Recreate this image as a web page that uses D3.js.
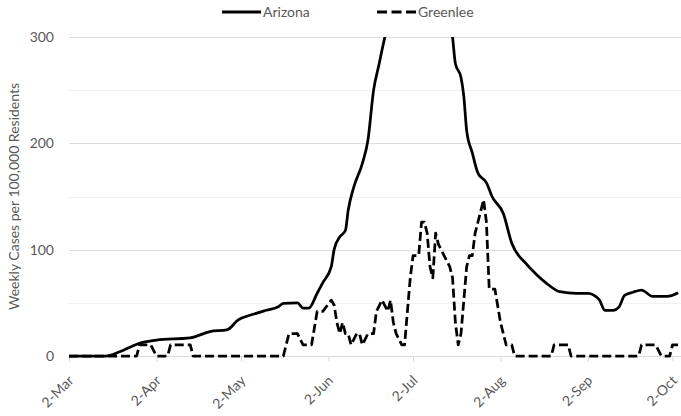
<!DOCTYPE html>
<html>
<head>
<meta charset="utf-8">
<script src="https://cdn.jsdelivr.net/npm/d3@7"></script>
<style>
	body { margin: 0; background: #fff; }
	svg { display: block; font-family: Lato, "Open Sans", sans-serif; }
	.grid line { shape-rendering: crispEdges; }
</style>
</head>
<body>
<div id="chart"></div>
<script>
// ---------------------------------------------------------------
// data (2020)
// ---------------------------------------------------------------

const azDates = [
	"03-02", "03-15", "03-20", "03-27", "04-02", "04-14", "04-21", "04-27",
	"05-01", "05-06", "05-11", "05-15", "05-17", "05-22", "05-24", "05-26",
	"05-29", "05-31", "06-03", "06-04", "06-06", "06-08", "06-09", "06-11",
	"06-14", "06-16", "06-18", "06-20", "06-21", "06-22", "06-26", "06-30",
	"07-04", "07-08", "07-12", "07-16", "07-17", "07-19", "07-20", "07-21",
	"07-23", "07-25", "07-28", "07-30", "08-03", "08-06", "08-11", "08-15",
	"08-18", "08-23", "08-29", "09-02", "09-06", "09-08", "09-11", "09-13",
	"09-15", "09-18", "09-21", "09-25", "09-30", "10-04"
];
const azValues = [
	0, 0, 4, 12, 15, 17, 23, 24.5,
	34, 39, 43, 46, 49.5, 50, 45, 45,
	59, 69, 84, 100, 112, 118, 137, 159,
	181, 203, 250, 275, 288, 300, 345, 385,
	410, 405, 370, 300, 275, 262, 244, 212,
	191, 172, 163, 150, 134, 106, 87, 76,
	69, 60.5, 59, 59, 53, 43, 43, 46,
	57, 60, 62, 56, 56, 59.5
];

const glDates = [
	"03-02", "03-26", "03-27", "03-31", "04-02", "04-06", "04-07", "04-14",
	"04-15", "05-17", "05-19", "05-22", "05-24", "05-27", "05-29", "05-31",
	"06-03", "06-04", "06-05", "06-06", "06-07", "06-08", "06-09", "06-10",
	"06-12", "06-13", "06-14", "06-16", "06-18", "06-19", "06-21", "06-23",
	"06-24", "06-25", "06-26", "06-28", "06-29", "07-01", "07-02", "07-04",
	"07-05", "07-06", "07-07", "07-08", "07-09", "07-10", "07-11", "07-13",
	"07-15", "07-16", "07-17", "07-18", "07-19", "07-21", "07-22", "07-23",
	"07-24", "07-26", "07-27", "07-28", "07-29", "07-31", "08-02", "08-04",
	"08-06", "08-07", "08-20", "08-21", "08-26", "08-27", "09-20", "09-21",
	"09-26", "09-28", "10-01", "10-02", "10-04"
];
const glValues = [
	0, 0, 10.5, 10.5, 0, 0, 10.5, 10.5,
	0, 0, 21, 21, 10.5, 10.5, 42, 42,
	52.5, 48, 31.5, 21, 31.5, 21, 21, 10.5,
	21, 21, 10.5, 21, 21, 42, 52.5, 42,
	52.5, 31.5, 21, 10.5, 10.5, 73.5, 94.5, 94.5,
	126, 126, 115.5, 84, 73.5, 115.5, 105, 94.5,
	84, 73.5, 31.5, 10.5, 21, 84, 94.5, 94.5,
	115.5, 136.5, 147, 126, 63, 63, 31.5, 10.5,
	10.5, 0, 0, 10.5, 10.5, 0, 0, 10.5,
	10.5, 0, 0, 10.5, 10.5
];

const monthTicks = ["03-02", "04-02", "05-02", "06-02", "07-02", "08-02", "09-02", "10-02"];
const yMajor = [0, 100, 200, 300];
const yMinor = [50, 150, 250];
const seriesNames = ["Arizona", "Greenlee"];

// ---------------------------------------------------------------
// set up svg
// ---------------------------------------------------------------

const width = 681;
const height = 416;
const margin = { top: 37, right: 0, bottom: 60, left: 69 };
const parseDate = (s) => d3.timeParse("%Y-%m-%d")("2020-" + s);

const svg = d3
	.select("#chart")
	.append("svg")
	.attr("width", width)
	.attr("height", height);

const xScale = d3
	.scaleTime()
	.domain([parseDate("03-02"), parseDate("10-05")])
	.range([margin.left, width - margin.right]);

const yScale = d3
	.scaleLinear()
	.domain([0, 300])
	.range([height - margin.bottom, margin.top]);

const y0 = yScale(0);

// grid lines
const grid = svg.append("g").attr("class", "grid");
grid
	.selectAll(".minor")
	.data(yMinor)
	.enter()
	.append("line")
	.attr("x1", margin.left)
	.attr("x2", width - margin.right)
	.attr("y1", (d) => Math.round(yScale(d)) + 0.5)
	.attr("y2", (d) => Math.round(yScale(d)) + 0.5)
	.attr("stroke", "#f0f0f0");
grid
	.selectAll(".major")
	.data(yMajor)
	.enter()
	.append("line")
	.attr("x1", margin.left)
	.attr("x2", width - margin.right)
	.attr("y1", (d) => Math.round(yScale(d)) + 0.5)
	.attr("y2", (d) => Math.round(yScale(d)) + 0.5)
	.attr("stroke", "#dcdcdc");

// y axis labels
const yAxis = d3.axisLeft(yScale).tickValues(yMajor).tickSize(0).tickPadding(15);
svg
	.append("g")
	.attr("transform", `translate(${margin.left},0)`)
	.call(yAxis)
	.call((g) => g.select(".domain").remove())
	.selectAll("text")
	.attr("fill", "#595959")
	.style("font-size", "14px")
	.style("font-family", "Lato, sans-serif");

// x axis: ticks + rotated labels
const xAxis = d3
	.axisBottom(xScale)
	.tickValues(monthTicks.map(parseDate))
	.tickSize(5)
	.tickFormat(d3.timeFormat("%-d-%b"));
const gx = svg
	.append("g")
	.attr("transform", `translate(0,${Math.round(y0) + 0.5})`)
	.call(xAxis)
	.call((g) => g.select(".domain").remove());
gx.selectAll(".tick line").attr("stroke", "#d9d9d9");
gx.selectAll("text")
	.attr("fill", "#595959")
	.style("font-size", "14px")
	.style("font-family", "Lato, sans-serif")
	.attr("text-anchor", "end")
	.attr("dy", null)
	.attr("y", null)
	.attr("transform", "translate(5,25) rotate(-45)");

// y axis title
svg
	.append("text")
	.attr("transform", `translate(19,${(margin.top + y0) / 2}) rotate(-90)`)
	.attr("text-anchor", "middle")
	.attr("fill", "#595959")
	.style("font-size", "14px")
	.text("Weekly Cases per 100,000 Residents");

// ---------------------------------------------------------------
// lines
// ---------------------------------------------------------------

svg
	.append("clipPath")
	.attr("id", "plot-clip")
	.append("rect")
	.attr("x", margin.left)
	.attr("y", margin.top)
	.attr("width", width - margin.left)
	.attr("height", y0 - margin.top + 4);

const line = d3
	.line()
	.x((d) => xScale(d.date))
	.y((d) => yScale(d.value));

const azData = azDates.map((d, i) => ({ date: parseDate(d), value: azValues[i] }));
const glData = glDates.map((d, i) => ({ date: parseDate(d), value: glValues[i] }));

const plot = svg.append("g").attr("clip-path", "url(#plot-clip)");

plot
	.append("path")
	.datum(glData)
	.attr("fill", "none")
	.attr("stroke", "#000")
	.attr("stroke-width", 2.75)
	.attr("stroke-dasharray", "9,4")
	.attr("stroke-linejoin", "round")
	.attr("d", line);

plot
	.append("path")
	.datum(azData)
	.attr("fill", "none")
	.attr("stroke", "#000")
	.attr("stroke-width", 2.75)
	.attr("stroke-linejoin", "round")
	.attr("d", line.curve(d3.curveMonotoneX));

// ---------------------------------------------------------------
// legend
// ---------------------------------------------------------------

const legendX = [222, 377];
const legend = svg
	.selectAll(".legend")
	.data(seriesNames)
	.enter()
	.append("g")
	.attr("class", "legend")
	.attr("transform", (d, i) => `translate(${legendX[i]},12)`);

legend
	.append("line")
	.attr("x1", 0)
	.attr("x2", 39)
	.attr("stroke", "#000")
	.attr("stroke-width", 3)
	.attr("stroke-dasharray", (d, i) => (i === 1 ? "10,4.5" : null));

legend
	.append("text")
	.attr("x", 41)
	.attr("dy", "0.35em")
	.attr("fill", "#595959")
	.style("font-size", "14px")
	.text((d) => d);
</script>
</body>
</html>
